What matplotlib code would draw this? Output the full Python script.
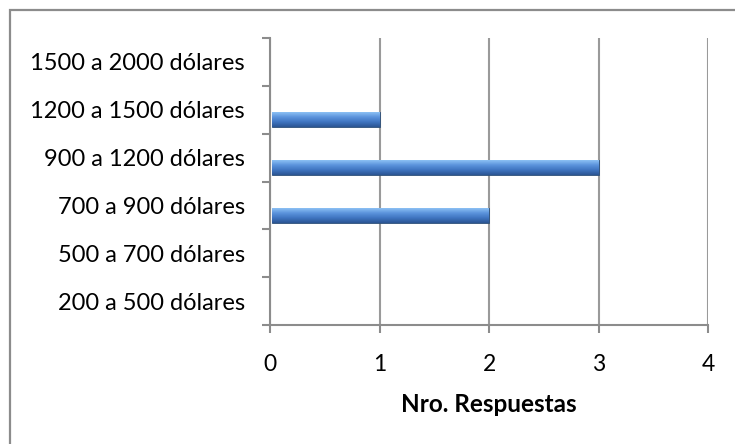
import matplotlib
matplotlib.use("Agg")
import matplotlib.pyplot as plt
import numpy as np
from matplotlib.patches import Rectangle
from matplotlib.colors import LinearSegmentedColormap

# data
categories = [
    "200 a 500 dólares",
    "500 a 700 dólares",
    "700 a 900 dólares",
    "900 a 1200 dólares",
    "1200 a 1500 dólares",
    "1500 a 2000 dólares",
]
respuestas = [0, 0, 2, 3, 1, 0]
x_ticks = [0, 1, 2, 3, 4]
x_label = "Nro. Respuestas"

W, H = 735, 444
fig = plt.figure(figsize=(W / 100, H / 100), dpi=100)
fig.patch.set_facecolor("white")

# outer chart border (only left/top fall inside the picture)
fig.add_artist(Rectangle((10 / W, -0.05), 1.1, (H - 10) / H + 0.05,
                         transform=fig.transFigure, fill=False,
                         edgecolor="#8c8c8c", linewidth=1.6))

ax = fig.add_axes([270 / W, 1 - 325 / H, (708 - 270) / W, (325 - 38) / H])
ax.set_xlim(0, 4)
ax.set_ylim(-0.5, len(categories) - 0.5)

grad = LinearSegmentedColormap.from_list(
    "bar", ["#8cc0f4", "#5b93dc", "#3f74c0", "#2b5593"])
gimg = np.linspace(0, 1, 64).reshape(-1, 1)

bar_h = 0.31
offset = -0.21
for i, v in enumerate(respuestas):
    if v <= 0:
        continue
    y0 = i + offset - bar_h / 2
    rect = Rectangle((0.02, y0), v - 0.02, bar_h, facecolor="#4f81bd",
                     edgecolor="#2c4d75", linewidth=0.6, zorder=3)
    ax.add_patch(rect)
    im = ax.imshow(gimg, cmap=grad, aspect="auto",
                   extent=(0.02, v, y0, y0 + bar_h), origin="upper",
                   zorder=3.5, interpolation="bilinear")
    im.set_clip_path(rect)

ax.set_xticks(x_ticks)
ax.set_xticklabels([str(t) for t in x_ticks])
ax.set_yticks(range(len(categories)))
ax.set_yticklabels(categories)
ax.set_yticks(np.arange(-0.5, len(categories), 1), minor=True)
ax.tick_params(axis="y", which="major", length=0, pad=18)
ax.tick_params(axis="y", which="minor", length=6, width=1.5, color="#8c8c8c")
ax.tick_params(axis="x", length=6, width=1.5, color="#8c8c8c", pad=15)

font = ["Lato", "DejaVu Sans"]
for lab in ax.get_xticklabels():
    lab.set_fontfamily(font)
    lab.set_fontsize(16.5)
    lab.set_color("black")
for lab in ax.get_yticklabels():
    lab.set_fontfamily(font)
    lab.set_fontsize(17)
    lab.set_color("black")

ax.xaxis.grid(True, color="#9a9a9a", linewidth=1.5, zorder=0)
ax.set_axisbelow(True)
for s in ("top", "right"):
    ax.spines[s].set_visible(False)
for s in ("left", "bottom"):
    ax.spines[s].set_color("#8c8c8c")
    ax.spines[s].set_linewidth(1.5)

ax.set_xlabel(x_label, fontsize=17.5, fontweight="bold", family=font, labelpad=13)

fig.savefig("out.png", dpi=100)
